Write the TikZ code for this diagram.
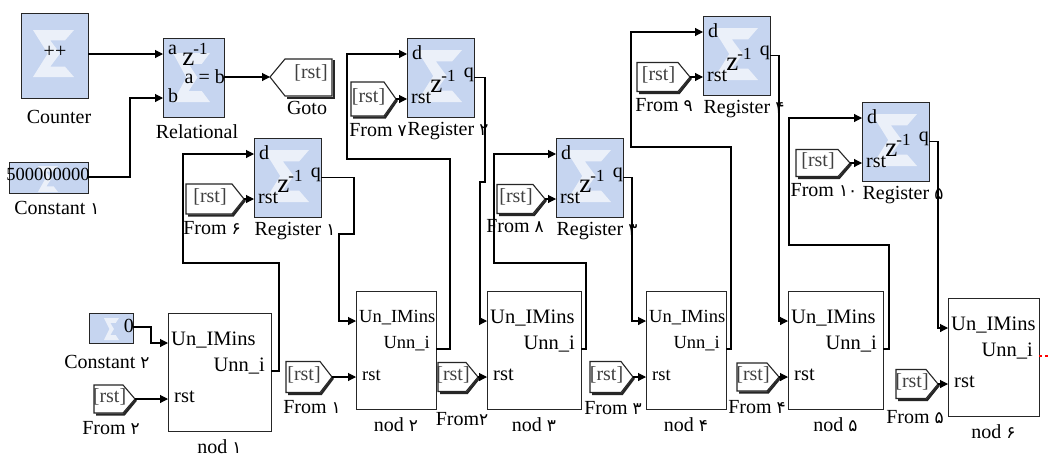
\documentclass[tikz,border=0pt]{standalone}
\usepackage{fontspec}
\setmainfont{Liberation Serif}
\newfontfamily\fafont[Script=Arabic]{DejaVu Sans}
\usetikzlibrary{arrows.meta}
\definecolor{xblue}{RGB}{198,213,240}
\newcommand{\fd}[1]{{\fafont\fontsize{17}{17}\selectfont #1}}
\newcommand{\zinv}{{\fontsize{27}{27}\selectfont z}\kern-1pt\raisebox{11pt}{\fontsize{17}{17}\selectfont -1}}

\begin{document}
\begin{tikzpicture}[x=1pt,y=-1pt,
  wire/.style={line width=1.1pt},
  arr/.style={wire,-{Triangle[length=8pt,width=8pt]}},
  xbox/.style={draw=black!85,line width=1.3pt,fill=xblue,anchor=north west,inner sep=0pt},
  wbox/.style={draw=black!85,line width=1.3pt,fill=white,anchor=north west,inner sep=0pt},
  lbl/.style={inner sep=0pt,font=\fontsize{20}{20}\selectfont},
  plbl/.style={inner sep=0pt,font=\fontsize{20}{20}\selectfont},
  tag/.style={inner sep=0pt,text=black!75,font=\fontsize{20}{20}\selectfont}]

	\useasboundingbox (0,0) rectangle (1048,461);
	\fill[white] (0,0) rectangle (1048,461);

	\def\xlogo#1#2#3#4{%
	  \begin{scope}[shift={(#1,#2)},xscale=#3,yscale=#4]
	    \fill[white,opacity=0.65] (0,0) -- (1,0) -- (0.78,0.22) -- (0.42,0.22) -- (0.66,0.5)
	      -- (0.42,0.78) -- (0.78,0.78) -- (1,1) -- (0,1) -- (0.36,0.5) -- cycle;
	  \end{scope}}

	% counter, relational, constants, goto
	\node[xbox,minimum width=67pt,minimum height=85pt] (counter) at (21,13) {};
	\xlogo{33}{30}{41}{47}
	\node[plbl] (counter-pp) at (55,52) {++};
	\node[lbl] (counter-name) at (59,117) {Counter};
	\coordinate (counter-out) at (88,54);

	\node[xbox,minimum width=61pt,minimum height=79pt] (rel) at (163,38) {};
	\xlogo{173}{53}{37}{49}
	\node[plbl,anchor=west] (rel-al) at (168,50) {a};
	\node[plbl,anchor=west] (rel-bl) at (168,96) {b};
	\node[plbl] (rel-z) at (195,54) {\zinv};
	\node[plbl,anchor=east] (rel-eq) at (225,77) {a = b};
	\node[lbl] (rel-name) at (197,132) {Relational};
	\coordinate (rel-a) at (163,54);
	\coordinate (rel-b) at (163,98);
	\coordinate (rel-out) at (224,77);

	\node[xbox,minimum width=79pt,minimum height=31pt] (const1) at (9,162) {};
	\xlogo{38}{166}{20}{26}
	\node[inner sep=0pt,font=\fontsize{18.5}{18.5}\selectfont] (const1-val) at (48,174) {500000000};
	\node[lbl] (const1-name) at (57,208) {Constant \fd{۱}};
	\coordinate (const1-out) at (88,177);

	\node[xbox,minimum width=44pt,minimum height=30pt] (const2) at (89,313) {};
	\xlogo{104}{318}{15}{22}
	\node[plbl,anchor=east] (const2-val) at (134,326) {0};
	\node[lbl] (const2-name) at (107,362) {Constant \fd{۲}};
	\coordinate (const2-out) at (133,327);

	\coordinate (goto) at (270,77);
	\draw[line width=2.6pt,black!85] (334,60) -- (334,98) -- (287,98);
	\filldraw[fill=white,draw=black!85,line width=1.1pt] (goto) -- (285,59) -- (332,59) -- (332,96) -- (285,96) -- cycle;
	\node[tag] (goto-tag) at (311,73) {[rst]};
	\node[lbl] (goto-name) at (307,108) {Goto};

	% registers
	\foreach \n/\xa/\ya/\lab in {1/254/138/۱,2/407/38/۲,3/556/138/۳,4/703/16/۴,5/862/102/۵}{
	  \node[xbox,minimum width=67pt,minimum height=79pt] (reg\n) at (\xa,\ya) {};
	  \xlogo{\xa+10}{\ya+12}{45}{52}
	  \node[plbl,anchor=west] (reg\n-dl) at (\xa+5,\ya+15) {d};
	  \node[plbl,anchor=west] (reg\n-rl) at (\xa+4,\ya+60) {rst};
	  \node[plbl,anchor=east] (reg\n-ql) at (\xa+67,\ya+37) {q};
	  \node[plbl] (reg\n-z) at (\xa+36,\ya+43) {\zinv};
	  \node[lbl] (reg\n-name) at (\xa+41,\ya+93) {Register \fd{\lab}};
	  \coordinate (reg\n-d) at (\xa,\ya+16);
	  \coordinate (reg\n-rst) at (\xa,\ya+61);
	  \coordinate (reg\n-q) at (\xa+67,\ya+39.5);
	}

	% nod blocks
	\foreach \n/\xa/\ya/\xb/\yb/\lab/\fs in {1/168/313/271/431/۱/20.5,2/356/291/436/409/۲/18.5,
	    3/487/291/581/409/۳/20.5,4/646/291/726/409/۴/18.5,5/788/291/883/409/۵/20.5,6/948/298/1039/416/۶/20.5}{
	  \node[wbox,minimum width={(\xb-\xa)*1pt},minimum height={(\yb-\ya)*1pt}] (nod\n) at (\xa,\ya) {};
	  \node[anchor=west,inner sep=0pt,font=\fontsize{\fs}{\fs}\selectfont] (nod\n-il) at (\xa+3,\ya+27) {Un\_IMins};
	  \node[anchor=east,inner sep=0pt,font=\fontsize{\fs}{\fs}\selectfont] (nod\n-ol) at (\xb-6,\ya+53) {Unn\_i};
	  \node[anchor=west,inner sep=0pt,font=\fontsize{\fs}{\fs}\selectfont] (nod\n-rl) at (\xa+6,\ya+84) {rst};
	  \node[lbl] (nod\n-name) at ({(\xa+\xb)/2},\yb+16) {nod \fd{\lab}};
	  \coordinate (nod\n-in) at (\xa,\ya+30);
	  \coordinate (nod\n-out) at (\xb,\ya+58);
	  \coordinate (nod\n-rst) at (\xa,\ya+86);
	}

	% from tags
	\foreach \n/\tx/\ty/\w/\h/\lab/\lx/\ly in {2/135/399/41/28/{From \fd{۲}}/111/428,
	    6/244/199/58/30/{From \fd{۶}}/212/228, 1/332/377/46/31/{From \fd{۱}}/312/407,
	    7/396/99/45/34/{From \fd{۷}}/378/130, 2b/478/377/40/29/{From\fd{۲}}/462/419,
	    8/545/199/48/29/{From \fd{۸}}/515/226, 3/633/377/43/31/{From \fd{۳}}/613/408,
	    9/690/77/53/29/{From \fd{۹}}/664/105, 4/779/377/42/28/{From \fd{۴}}/757/407,
	    10/850/163/54/27/{From \fd{۱۰}}/824/190, 5/938/384/42/29/{From \fd{۵}}/915/417}{
	  \coordinate (from\n) at (\tx,\ty);
	  \draw[line width=2.4pt,black!85] (\tx+1,\ty+1) -- (\tx-11,\ty+\h/2+1.5) -- (\tx-\w+2,\ty+\h/2+1.5);
	  \filldraw[fill=white,draw=black!85,line width=1.1pt] (from\n) -- (\tx-12,\ty-\h/2) -- (\tx-\w,\ty-\h/2)
	    -- (\tx-\w,\ty+\h/2) -- (\tx-12,\ty+\h/2) -- cycle;
	  \node[tag] (from\n-tag) at (\tx-\w/2-5,\ty-2) {[rst]};
	  \node[lbl] (from\n-name) at (\lx,\ly) {\lab};
	}

	% wires
	\draw[arr] (counter-out) -- (rel-a);
	\draw[arr] (const1-out) -| (130,98) -- (rel-b);
	\draw[arr] (rel-out) -- (goto);
	\draw[arr] (const2-out) -| (151,343) -- (nod1-in);
	\draw[arr] (from2) -- (nod1-rst);
	\draw[arr] (nod1-out) -| (279,263) -| (183,154) -- (reg1-d);
	\draw[arr] (from6) -- (reg1-rst);
	\draw[arr] (reg1-q) -| (354,234) -| (339,321) -- (nod2-in);
	\draw[arr] (from1) -- (nod2-rst);
	\draw[arr] (nod2-out) -| (450,159) -| (347,54) -- (reg2-d);
	\draw[arr] (from7) -- (reg2-rst);
	\draw[arr] (reg2-q) -| (485,182) -| (480,321) -- (nod3-in);
	\draw[arr] (from2b) -- (nod3-rst);
	\draw[arr] (nod3-out) -| (586,263) -| (494,154) -- (reg3-d);
	\draw[arr] (from8) -- (reg3-rst);
	\draw[arr] (reg3-q) -| (632,321) -- (nod4-in);
	\draw[arr] (from3) -- (nod4-rst);
	\draw[arr] (nod4-out) -| (731,147) -| (631,32) -- (reg4-d);
	\draw[arr] (from9) -- (reg4-rst);
	\draw[arr] (reg4-q) -| (779,321) -- (nod5-in);
	\draw[arr] (from4) -- (nod5-rst);
	\draw[arr] (nod5-out) -| (889,245) -| (789,118) -- (reg5-d);
	\draw[arr] (from10) -- (reg5-rst);
	\draw[arr] (reg5-q) -| (938,328) -- (nod6-in);
	\draw[arr] (from5) -- (nod6-rst);
	\coordinate (edge) at (1048,356);
	\draw[wire,red,dashed] (nod6-out) -- (edge);

\end{tikzpicture}
\end{document}
